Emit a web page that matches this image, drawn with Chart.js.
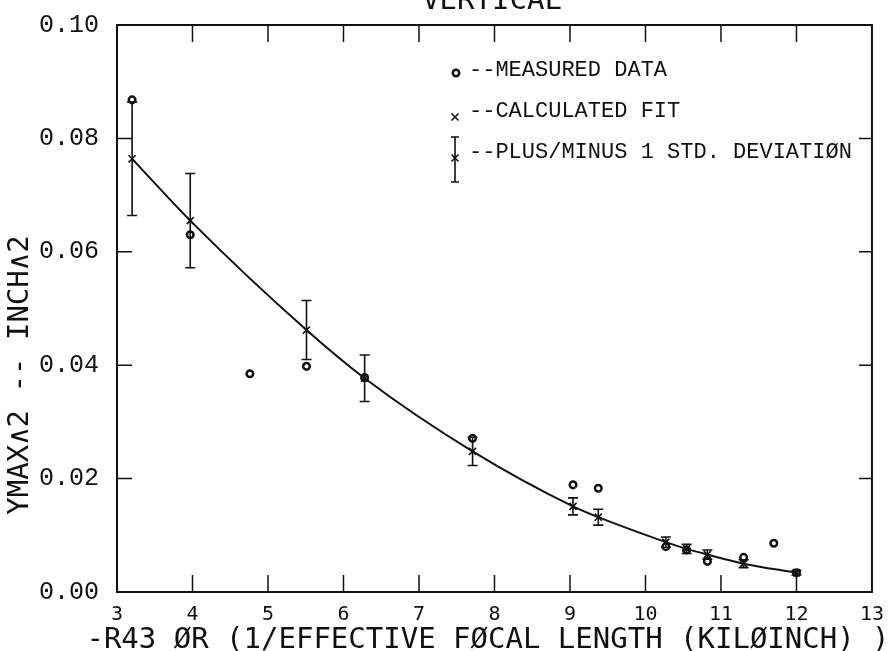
<!DOCTYPE html>
<html>
<head>
<meta charset="utf-8">
<script src="https://cdn.jsdelivr.net/npm/chart.js@4.4.0/dist/chart.umd.min.js"></script>
<style>
    html, body { margin: 0; padding: 0; background: #ffffff; }
    #wrap { width: 889px; height: 651px; }
</style>
</head>
<body>
<div id="wrap"><canvas id="chart" width="889" height="651"></canvas></div>
<script>
// measured points (circles)
const measuredX = [3.2, 3.97, 4.76, 5.51, 6.28, 7.71, 9.04, 9.375, 10.27, 10.545, 10.82, 11.3, 11.7, 12.0];
const measuredY = [0.0868, 0.0630, 0.0385, 0.0398, 0.0378, 0.0271, 0.0189, 0.0183, 0.0080, 0.0074, 0.0054, 0.0061, 0.0086, 0.0034];

// calculated fit (crosses) and +/- 1 std deviation
const fitX = [3.2, 3.97, 5.51, 6.28, 7.71, 9.04, 9.375, 10.27, 10.545, 10.82, 11.3, 12.0];
const fitY = [0.0764, 0.0655, 0.0462, 0.0377, 0.0248, 0.0151, 0.0132, 0.0088, 0.0076, 0.0066, 0.0050, 0.0034];
const stdDev = [0.0100, 0.0083, 0.0052, 0.0041, 0.0025, 0.0015, 0.0014, 0.0009, 0.0008, 0.0008, 0.0007, 0.0004];

// axis ticks
const xTicks = [3, 4, 5, 6, 7, 8, 9, 10, 11, 12, 13];
const yTicks = [0.00, 0.02, 0.04, 0.06, 0.08, 0.10];

const titleText = 'VERTICAL';
const xTitle = '-R43 ØR (1/EFFECTIVE FØCAL LENGTH (KILØINCH) )';
const yTitle = 'YMAX∧2 -- INCH∧2';
const legendLabels = ['--MEASURED DATA', '--CALCULATED FIT', '--PLUS/MINUS 1 STD. DEVIATIØN'];

const INK = '#111111';

// frame and inward tick marks on all four sides
const frameTicks = {
    id: 'frameTicks',
    beforeDatasetsDraw(chart) {
        const { ctx, chartArea: a, scales: { x, y } } = chart;
        ctx.save();
        ctx.strokeStyle = INK;
        ctx.lineWidth = 2;
        ctx.strokeRect(a.left, a.top, a.right - a.left, a.bottom - a.top);
        ctx.lineWidth = 1.5;
        ctx.beginPath();
        xTicks.slice(1, -1).forEach(v => {
            const px = x.getPixelForValue(v);
            ctx.moveTo(px, a.bottom); ctx.lineTo(px, a.bottom - 17);
            ctx.moveTo(px, a.top); ctx.lineTo(px, a.top + 17);
        });
        yTicks.slice(1, -1).forEach(v => {
            const py = y.getPixelForValue(v);
            ctx.moveTo(a.left, py); ctx.lineTo(a.left + 15, py);
            ctx.moveTo(a.right, py); ctx.lineTo(a.right - 13, py);
        });
        ctx.stroke();
        ctx.restore();
    }
};

// error bars around each fit point
const errorBars = {
    id: 'errorBars',
    afterDatasetsDraw(chart) {
        const { ctx, scales: { x, y } } = chart;
        ctx.save();
        ctx.strokeStyle = INK;
        ctx.lineWidth = 1.6;
        fitX.forEach((v, i) => {
            const px = x.getPixelForValue(v);
            const top = y.getPixelForValue(fitY[i] + stdDev[i]);
            const bot = y.getPixelForValue(fitY[i] - stdDev[i]);
            ctx.beginPath();
            ctx.moveTo(px, top); ctx.lineTo(px, bot);
            ctx.moveTo(px - 5, top); ctx.lineTo(px + 5, top);
            ctx.moveTo(px - 5, bot); ctx.lineTo(px + 5, bot);
            ctx.stroke();
        });
        ctx.restore();
    }
};

// titles and legend text
const labels = {
    id: 'labels',
    afterDraw(chart) {
        const { ctx } = chart;
        ctx.save();
        ctx.fillStyle = INK;
        ctx.strokeStyle = INK;

        ctx.font = '29px "DejaVu Sans Mono"';
        ctx.textAlign = 'center';
        ctx.textBaseline = 'alphabetic';
        ctx.fillText(titleText, 492, 9);

        ctx.textBaseline = 'middle';
        ctx.fillText(xTitle, 488, 640);

        ctx.save();
        ctx.translate(20, 375);
        ctx.rotate(-Math.PI / 2);
        ctx.fillText(yTitle, 0, 0);
        ctx.restore();

        // legend
        ctx.font = '22px "Liberation Mono"';
        ctx.textAlign = 'left';
        const rows = [70, 111, 152];
        legendLabels.forEach((t, i) => ctx.fillText(t, 469, rows[i]));

        ctx.lineWidth = 2.5;
        ctx.beginPath();
        ctx.arc(456, 73, 3.2, 0, Math.PI * 2);
        ctx.stroke();

        ctx.lineWidth = 1.6;
        const cross = (cx, cy, r) => {
            ctx.beginPath();
            ctx.moveTo(cx - r, cy - r); ctx.lineTo(cx + r, cy + r);
            ctx.moveTo(cx + r, cy - r); ctx.lineTo(cx - r, cy + r);
            ctx.stroke();
        };
        cross(455, 117, 3.5);
        cross(455, 158, 3.5);
        ctx.beginPath();
        ctx.moveTo(455, 137); ctx.lineTo(455, 182);
        ctx.moveTo(451, 137); ctx.lineTo(459, 137);
        ctx.moveTo(451, 182); ctx.lineTo(459, 182);
        ctx.stroke();
        ctx.restore();
    }
};

const ctx = document.getElementById('chart').getContext('2d');
new Chart(ctx, {
    type: 'scatter',
    data: {
        datasets: [
            {
                label: 'Calculated fit',
                data: fitX.map((v, i) => ({ x: v, y: fitY[i] })),
                showLine: true,
                borderColor: INK,
                borderWidth: 2,
                cubicInterpolationMode: 'monotone',
                pointStyle: 'crossRot',
                pointRadius: 5,
                pointBorderWidth: 1.6,
                pointBorderColor: INK,
                pointBackgroundColor: INK
            },
            {
                label: 'Measured data',
                data: measuredX.map((v, i) => ({ x: v, y: measuredY[i] })),
                showLine: false,
                pointStyle: 'circle',
                pointRadius: 3.3,
                pointBorderWidth: 2.5,
                pointBorderColor: INK,
                pointBackgroundColor: '#ffffff'
            }
        ]
    },
    options: {
        responsive: false,
        devicePixelRatio: 1,
        animation: false,
        layout: { padding: { top: 16, right: 17, left: 0, bottom: 0 } },
        plugins: {
            legend: { display: false },
            tooltip: { enabled: false }
        },
        scales: {
            x: {
                type: 'linear',
                min: 3,
                max: 13,
                afterFit: s => { s.height = 59; },
                afterBuildTicks: s => { s.ticks = xTicks.map(v => ({ value: v })); },
                grid: { display: false },
                border: { display: false },
                ticks: {
                    color: INK,
                    padding: 5,
                    maxRotation: 0,
                    font: { family: '"DejaVu Sans Mono"', size: 20, lineHeight: 1 }
                }
            },
            y: {
                type: 'linear',
                min: 0,
                max: 0.10,
                afterFit: s => { s.width = 117; },
                afterBuildTicks: s => { s.ticks = yTicks.map(v => ({ value: v })); },
                grid: { display: false },
                border: { display: false },
                ticks: {
                    color: INK,
                    padding: 10,
                    font: { family: '"Liberation Mono"', size: 25 },
                    callback: v => v.toFixed(2)
                }
            }
        }
    },
    plugins: [frameTicks, errorBars, labels]
});
</script>
</body>
</html>
